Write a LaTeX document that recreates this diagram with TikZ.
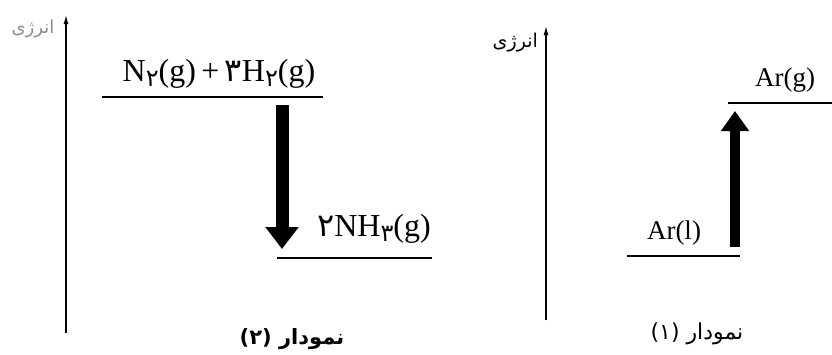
\documentclass[tikz,border=0pt]{standalone}
\usepackage{fontspec}
\setmainfont{Liberation Serif}
\newfontfamily\farsi[Script=Arabic]{DejaVu Sans}
\TeXXeTstate=1
\usetikzlibrary{arrows.meta}

\newcommand{\fa}[1]{{\farsi #1}}
\newcommand{\lowdigit}[1]{\raisebox{-0.3ex}{\scalebox{0.75}{\farsi #1}}}

\begin{document}
\begin{tikzpicture}[x=1pt, y=-1pt,
    axis/.style={line width=1.3pt, -{Latex[length=9pt, width=5pt]}},
    level/.style={line width=1.4pt},
    bigarrow/.style={line width=#1, -{Triangle[length=22pt, width=32pt]}},
    chem/.style={inner sep=0pt, font=\fontsize{32}{34}\selectfont},
    caption/.style={inner sep=0pt, font=\fontsize{22}{24}\selectfont\farsi}]
  \useasboundingbox (0,0) rectangle (832,354);

  % diagram (2)
  \coordinate (ax2b) at (66,333);
  \coordinate (ax2t) at (66,15);
  \draw[axis] (ax2b) -- (ax2t);
  \node[inner sep=0pt, text=black!45, font=\fontsize{18}{20}\selectfont\farsi] (en2) at (33,29) {\beginR انرژی\endR};

  \coordinate (r2a) at (102,97);
  \coordinate (r2b) at (323,97);
  \draw[level] (r2a) -- (r2b);
  \node[chem] (react) at (219,74) {N\lowdigit{۲}(g)\,+\,\fa{۳}H\lowdigit{۲}(g)};

  \coordinate (p2a) at (277,258);
  \coordinate (p2b) at (432,258);
  \draw[level] (p2a) -- (p2b);
  \node[chem] (prod) at (374,229) {\fa{۲}NH\lowdigit{۳}(g)};

  \coordinate (dn1) at (282,105);
  \coordinate (dn2) at (282,249);
  \draw[bigarrow=13pt] (dn1) -- (dn2);

  \node[caption, font=\fontsize{21}{23}\selectfont\farsi\bfseries] (cap2) at (292,339) {\beginR نمودار (۲)\endR};

  % diagram (1)
  \coordinate (ax1b) at (546,320);
  \coordinate (ax1t) at (546,26);
  \draw[axis] (ax1b) -- (ax1t);
  \node[inner sep=0pt, anchor=east, font=\fontsize{19}{20}\selectfont\farsi] (en1) at (538,43) {\beginR انرژی\endR};

  \coordinate (g1a) at (728,103);
  \coordinate (g1b) at (832,103);
  \draw[level] (g1a) -- (g1b);
  \node[chem, font=\fontsize{27}{29}\selectfont] (arg) at (785,80) {Ar(g)};

  \coordinate (l1a) at (627,256);
  \coordinate (l1b) at (740,256);
  \draw[level] (l1a) -- (l1b);
  \node[chem, font=\fontsize{27}{29}\selectfont] (arl) at (674,233) {Ar(l)};

  \coordinate (up1) at (735,247);
  \coordinate (up2) at (735,111);
  \draw[bigarrow=10pt, -{Triangle[length=20pt, width=27pt]}] (up1) -- (up2);

  \node[caption] (cap1) at (697,334) {\beginR نمودار (۱)\endR};
\end{tikzpicture}
\end{document}
